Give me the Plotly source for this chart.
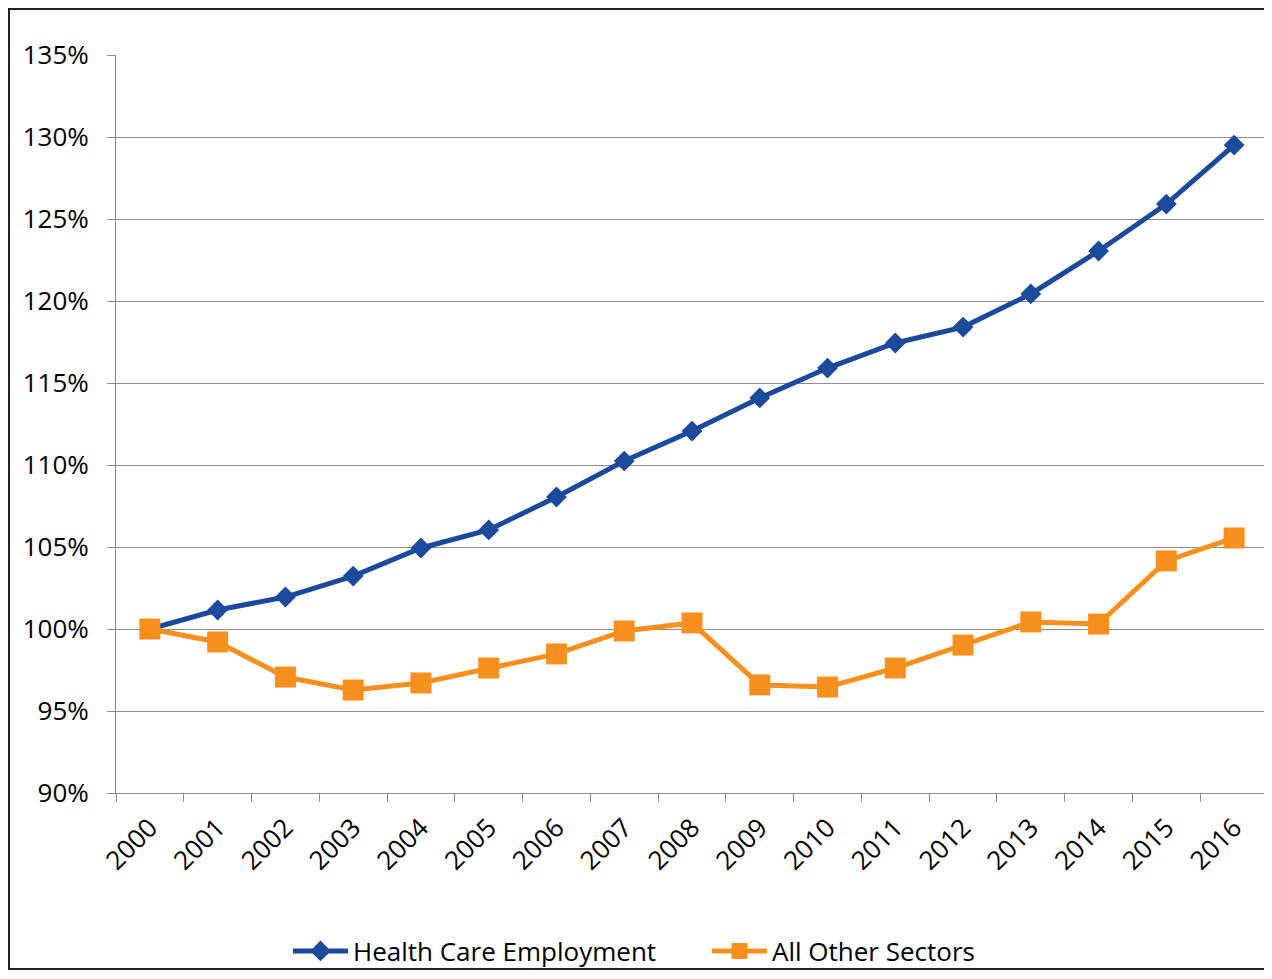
import plotly.graph_objects as go

years = [str(y) for y in range(2000, 2017)]
health_care = [100.0, 101.16, 101.95, 103.23, 104.94, 106.04, 108.05, 110.24, 112.07,
               114.09, 115.91, 117.44, 118.41, 120.43, 123.05, 125.91, 129.51]
all_other = [100.0, 99.21, 97.07, 96.28, 96.71, 97.62, 98.48, 99.88, 100.37,
             96.59, 96.46, 97.62, 99.02, 100.43, 100.30, 104.15, 105.55]
y_ticks = [0.90, 0.95, 1.00, 1.05, 1.10, 1.15, 1.20, 1.25, 1.30, 1.35]

BLUE = "#1B4A9C"
ORANGE = "#F7901E"
FONT = "Open Sans"
FS = 26

W, H = 1264, 971
L, R, T, B = 108, 4, 47, 186
PW = W - L - R
PH = H - T - B

fig = go.Figure()
fig.add_trace(go.Scatter(
    x=years, y=[v / 100 for v in health_care], name="Health Care Employment",
    mode="lines+markers",
    line=dict(color=BLUE, width=5),
    marker=dict(symbol="diamond", size=16, color=BLUE),
))
fig.add_trace(go.Scatter(
    x=years, y=[v / 100 for v in all_other], name="All Other Sectors",
    mode="lines+markers",
    line=dict(color=ORANGE, width=5),
    marker=dict(symbol="square", size=21, color=ORANGE),
))

fig.update_layout(
    width=W, height=H,
    margin=dict(l=L, r=R, t=T, b=B),
    paper_bgcolor="white", plot_bgcolor="white",
    font=dict(family=FONT, size=FS, color="#000000"),
    showlegend=True,
    legend=dict(orientation="h", x=(280 - L) / PW, xanchor="left",
                y=(PH - (951 - 8 - T)) / PH, yanchor="middle",
                font=dict(family=FONT, size=FS, color="#000000"),
                itemwidth=55, entrywidth=349, bgcolor="rgba(0,0,0,0)"),
    xaxis=dict(
        type="category", range=[-0.5, 16.5],
        tickangle=-45, ticks="outside", tickson="boundaries", ticklen=8,
        ticklabelstandoff=8,
        tickcolor="#8c8c8c", showgrid=False, showline=True, linecolor="#8c8c8c",
        linewidth=1, tickfont=dict(family=FONT, size=FS, color="#000000"),
    ),
    yaxis=dict(
        range=[0.90, 1.35], tickvals=y_ticks, tickformat=".0%",
        ticks="outside", ticklen=8, tickcolor="#8c8c8c", ticklabelstandoff=13,
        showgrid=True, gridcolor="#8c8c8c", gridwidth=1,
        showline=True, linecolor="#8c8c8c", linewidth=1, zeroline=False,
        tickfont=dict(family=FONT, size=FS, color="#000000"),
    ),
    shapes=[dict(type="rect", xref="paper", yref="paper",
                 x0=(-L + 1) / PW, x1=(W - L + 20) / PW,
                 y0=-(969 - 8 - T - PH) / PH, y1=(PH + T - 1) / PH,
                 line=dict(color="#222222", width=2), fillcolor="rgba(0,0,0,0)",
                 layer="below")],
)

fig.write_html("out.html")
